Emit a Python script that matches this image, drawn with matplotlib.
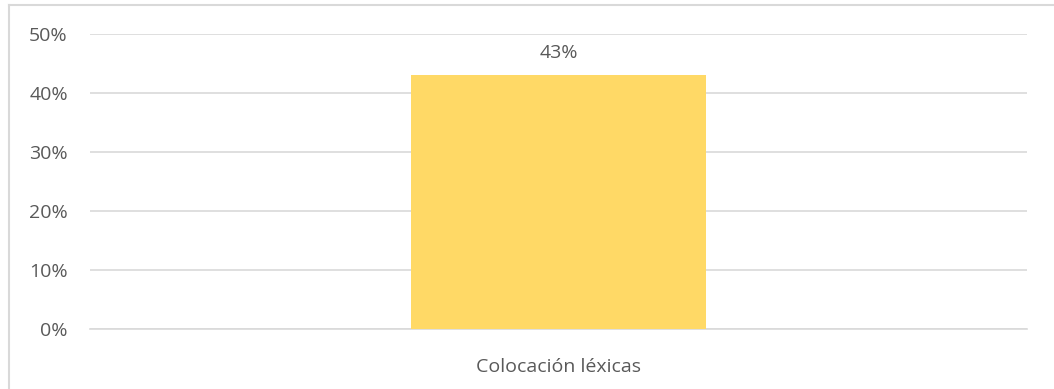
import matplotlib.pyplot as plt
from matplotlib.lines import Line2D
from matplotlib.ticker import FuncFormatter

categories = ["Colocación léxicas"]
values = [0.43]
bar_color = "#FFD966"
text_color = "#595959"

plt.rcParams['font.family'] = ['Open Sans', 'DejaVu Sans']

fig = plt.figure(figsize=(10.54, 3.89), dpi=100)
ax = fig.add_axes([90/1054, 1-329/389, (1027-90)/1054, (329-34)/389])

ax.bar(range(len(categories)), values, width=0.314, color=bar_color, zorder=3)
for i, v in enumerate(values):
    ax.text(i, v + 0.023, f"{v:.0%}", ha='center', va='bottom', fontsize=14, color=text_color)

ax.set_xlim(-0.5, 0.5)
ax.set_ylim(0, 0.5)
ax.set_yticks([0, 0.1, 0.2, 0.3, 0.4, 0.5])
ax.yaxis.set_major_formatter(FuncFormatter(lambda y, _: f"{y:.0%}"))
ax.set_xticks(range(len(categories)))
ax.set_xticklabels(categories)
ax.tick_params(axis='both', length=0, labelsize=14, colors=text_color)
ax.tick_params(axis='y', pad=16)
ax.tick_params(axis='x', pad=21)
ax.grid(axis='y', color='#D9D9D9', linewidth=1.2, zorder=0)
for s in ['top', 'right', 'left']:
    ax.spines[s].set_visible(False)
ax.spines['bottom'].set_color('#D9D9D9')
ax.spines['bottom'].set_linewidth(1.2)

# chart border (left and top edges visible)
fig.add_artist(Line2D([9/1054, 9/1054], [0, 1-5/389], color='#D9D9D9', linewidth=1.5))
fig.add_artist(Line2D([9/1054, 1], [1-5/389, 1-5/389], color='#D9D9D9', linewidth=1.5))

fig.savefig("out.png", dpi=100)
